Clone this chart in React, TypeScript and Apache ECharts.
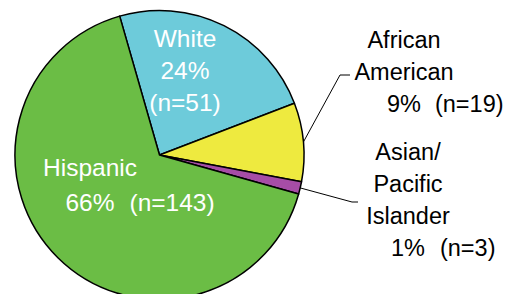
import React, { useEffect, useRef } from 'react';
import * as echarts from 'echarts';

// ---- data ----
const categories = ['White', 'African American', 'Asian/Pacific Islander', 'Hispanic'];
const labelNames = ['White', 'African\nAmerican', 'Asian/\nPacific\nIslander', 'Hispanic'];
const counts = [51, 19, 3, 143];
const sliceColors = ['#6DCBDA', '#EEEA3F', '#A64DA6', '#6BBD45'];

// ---- layout / style constants ----
const FONT = '"Liberation Sans", Arial, sans-serif';
const INSIDE_SIZE = 24.5;
const OUTSIDE_SIZE = 23.5;
const CENTER: [number, number] = [159.5, 155];
const RADIUS = 144.5;
const START_ANGLE = 106;

type Spot = {
  x: number; y: number; lh: number; inside: boolean; nOwnLine?: boolean; gap?: number;
  bend?: [number, number]; end?: [number, number];
};
const spots: Spot[] = [
  { x: 185, y: 22, lh: 32, inside: true, nOwnLine: true },
  { x: 404, y: 24, lh: 32, inside: false, gap: 14, bend: [-64, 51], end: [-54, 51] },
  { x: 408, y: 136, lh: 32, inside: false, gap: 15, bend: [-56, 66], end: [-50, 66] },
  { x: 90, y: 150, lh: 35, inside: true, gap: 15 },
];

function measure(s: string, size: number): number {
  const ctx = document.createElement('canvas').getContext('2d');
  if (!ctx) return s.length * size * 0.55;
  ctx.font = `normal normal ${size}px ${FONT}`;
  return ctx.measureText(s).width;
}

export default function App() {
  const ref = useRef<HTMLDivElement>(null);
  useEffect(() => {
    if (!ref.current) return;
    const chart = echarts.init(ref.current, null, { renderer: 'svg' });
    const total = counts.reduce((a, b) => a + b, 0);

    const data = categories.map((name, i) => {
      const pct = Math.round((counts[i] / total) * 100) + '%';
      const nText = `(n=${counts[i]})`;
      const sp = spots[i];
      const size = sp.inside ? INSIDE_SIZE : OUTSIDE_SIZE;
      const color = sp.inside ? '#ffffff' : '#000000';
      const base = { fontSize: size, lineHeight: sp.lh, fontFamily: FONT, color };
      const nameLines = labelNames[i].split('\n').map((l) => `{t|${l}}`);
      let formatter: string;
      const rich: any = { t: { ...base } };
      if (sp.nOwnLine) {
        formatter = [...nameLines, `{t|${pct}}`, `{t|${nText}}`].join('\n');
      } else {
        const g = sp.gap || 14;
        rich.pad = { ...base, width: g + measure(nText, size) };
        rich.gap = { ...base, width: g };
        formatter = [...nameLines, `{pad| }{t|${pct}}{gap| }{t|${nText}}`].join('\n');
      }
      return {
        name,
        value: counts[i],
        itemStyle: { color: sliceColors[i] },
        label: {
          show: true,
          position: sp.inside ? 'inside' : 'outside',
          formatter,
          rich,
          width: 260,
          overflow: 'none',
          color,
          fontFamily: FONT,
          fontSize: size,
        },
        labelLine: {
          show: !sp.inside,
          smooth: false,
          lineStyle: { color: '#000', width: 1 },
        },
      };
    });

    // slice mid-angles (fallback for leader start)
    const midAngles: number[] = [];
    let acc = 0;
    counts.forEach((c) => {
      const a0 = (acc / total) * 360;
      acc += c;
      const a1 = (acc / total) * 360;
      midAngles.push((START_ANGLE - (a0 + a1) / 2) * (Math.PI / 180));
    });

    chart.setOption({
      animation: false,
      series: [
        {
          type: 'pie',
          center: CENTER,
          radius: RADIUS,
          startAngle: START_ANGLE,
          clockwise: true,
          silent: true,
          avoidLabelOverlap: false,
          emphasis: { disabled: true },
          itemStyle: { borderColor: '#000', borderWidth: 1.5 },
          data,
          labelLayout: (params: any) => {
            const sp = spots[params.dataIndex];
            const res: any = { x: sp.x, y: sp.y, align: 'center', verticalAlign: 'top' };
            if (!sp.inside && sp.bend && sp.end) {
              let p0 = params.labelLinePoints && params.labelLinePoints[0];
              if (!p0) {
                const a = midAngles[params.dataIndex];
                p0 = [CENTER[0] + RADIUS * Math.cos(a), CENTER[1] - RADIUS * Math.sin(a)];
              }
              res.labelLinePoints = [
                p0,
                [sp.x + sp.bend[0], sp.y + sp.bend[1]],
                [sp.x + sp.end[0], sp.y + sp.end[1]],
              ];
            }
            return res;
          },
        },
      ],
    });
    return () => chart.dispose();
  }, []);

  return (
    <div
      ref={ref}
      style={{ position: 'absolute', left: 0, top: 0, width: 505, height: 294, background: '#fff' }}
    />
  );
}
